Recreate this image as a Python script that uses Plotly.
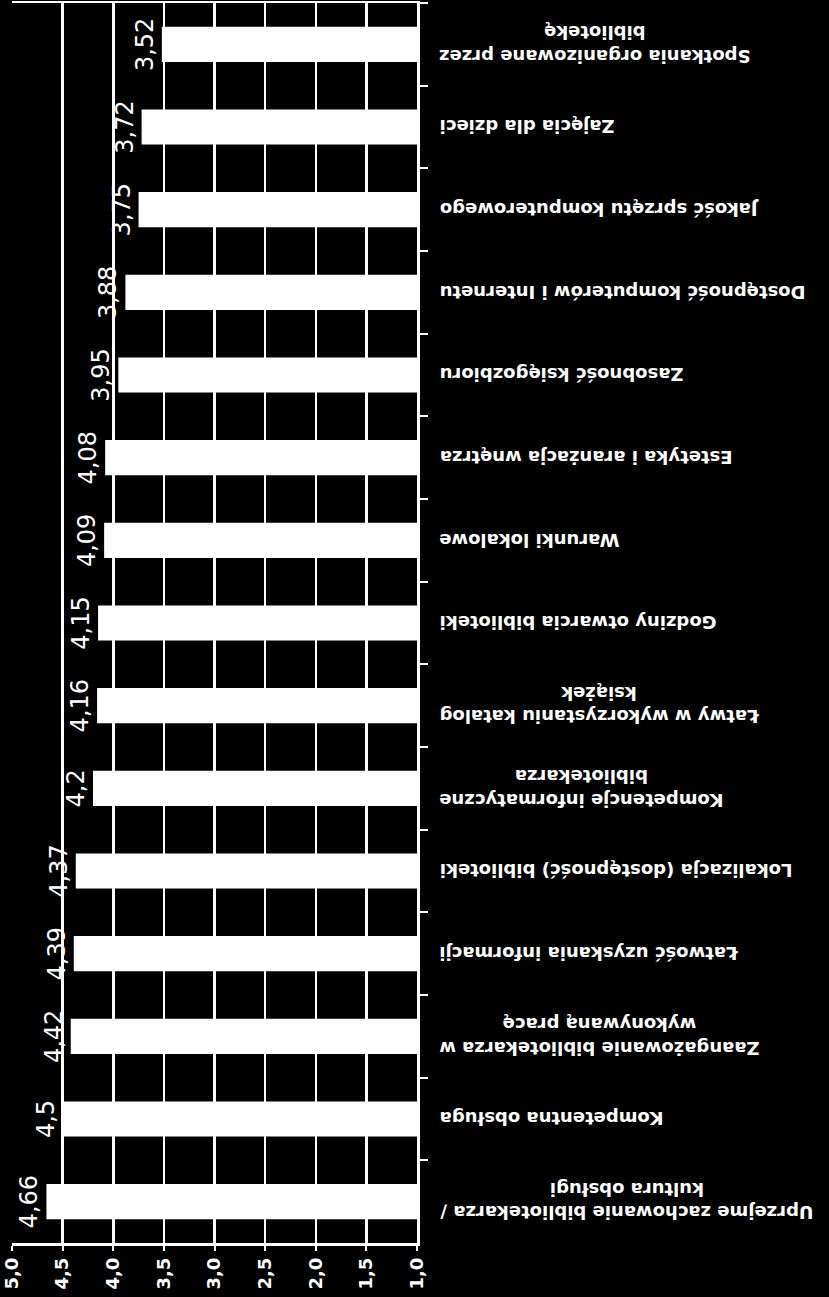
import plotly.graph_objects as go

categories = [
    "Spotkania organizowane przez<br>bibliotekę",
    "Zajęcia dla dzieci",
    "Jakość sprzętu komputerowego",
    "Dostępność komputerów i Internetu",
    "Zasobność księgozbioru",
    "Estetyka i aranżacja wnętrza",
    "Warunki lokalowe",
    "Godziny otwarcia biblioteki",
    "Łatwy w wykorzystaniu katalog<br>książek",
    "Kompetencje informatyczne<br>bibliotekarza",
    "Lokalizacja (dostępność) biblioteki",
    "Łatwość uzyskania informacji",
    "Zaangażowanie bibliotekarza w<br>wykonywaną pracę",
    "Kompetentna obsługa",
    "Uprzejme zachowanie bibliotekarza /<br>kultura obsługi",
]
values = [3.52, 3.72, 3.75, 3.88, 3.95, 4.08, 4.09, 4.15, 4.16, 4.2, 4.37, 4.39, 4.42, 4.5, 4.66]
axis_base = 1.0
x_ticks = [5.0, 4.5, 4.0, 3.5, 3.0, 2.5, 2.0, 1.5, 1.0]

value_labels = [f"{v:g}".replace(".", ",") for v in values]

fig = go.Figure()
fig.add_trace(go.Bar(
    y=categories,
    x=[v - axis_base for v in values],
    base=axis_base,
    orientation="h",
    marker=dict(color="white", line=dict(width=0)),
    text=value_labels,
    textposition="outside",
    textangle=-90,
    textfont=dict(family="DejaVu Sans", size=24, color="white"),
    hoverinfo="skip",
    cliponaxis=False,
))

for cat in categories:
    fig.add_annotation(
        x=1.05, xref="paper", y=cat, yref="y",
        xanchor="left", yanchor="middle",
        text=cat, showarrow=False, textangle=180, align="center",
        font=dict(family="DejaVu Sans", size=18, color="white", weight="bold"),
    )

fig.update_layout(
    width=829, height=1297,
    margin=dict(l=12, r=412, t=3, b=54, autoexpand=False),
    paper_bgcolor="black", plot_bgcolor="black",
    separators=", ",
    showlegend=False,
    bargap=0.575,
    xaxis=dict(
        range=[5, 1], tickvals=x_ticks, tickformat=".1f",
        automargin=False,
        showgrid=True, gridcolor="white", gridwidth=2.5,
        showline=True, linecolor="white", linewidth=2.5, mirror=True,
        ticks="outside", ticklen=5, tickwidth=2, tickcolor="white",
        tickangle=-90, zeroline=False,
        tickfont=dict(family="DejaVu Sans", size=18, color="white", weight="bold"),
    ),
    yaxis=dict(
        side="right", categoryorder="array", categoryarray=categories,
        autorange="reversed", showticklabels=False, automargin=False,
        ticks="outside", ticklen=8, tickwidth=2, tickcolor="white", tickson="boundaries",
        showline=True, linecolor="white", linewidth=2.5, showgrid=False, zeroline=False,
    ),
)

fig.write_html(
    "out.html",
    config={"displayModeBar": False, "staticPlot": True},
    post_script="document.body.style.margin='0px';document.body.style.background='black';document.body.style.overflow='hidden';",
)
